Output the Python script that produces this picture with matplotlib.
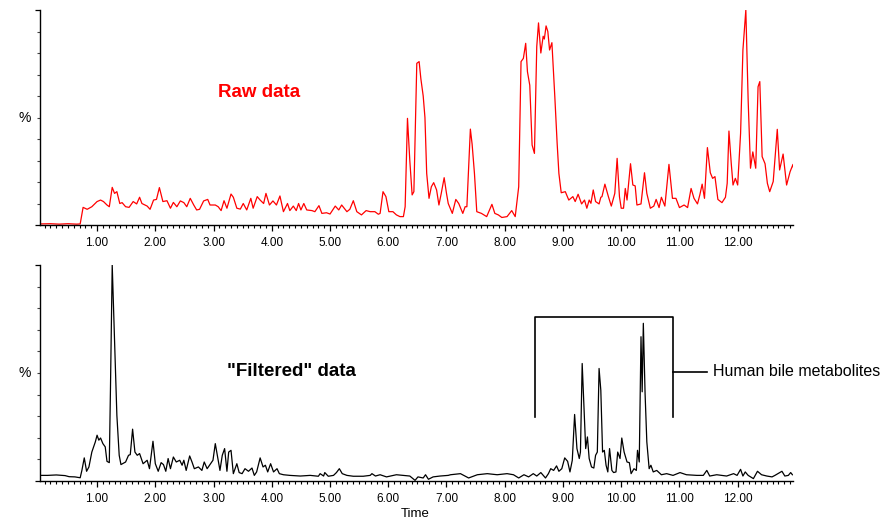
import matplotlib
matplotlib.use("Agg")
import matplotlib.pyplot as plt
from matplotlib.ticker import MultipleLocator, FixedLocator, FuncFormatter
import matplotlib.transforms as mtransforms

plt.rcParams['font.family'] = ['Liberation Sans', 'DejaVu Sans']

# ---- Raw data trace (top, red) ----
raw_time = [0.03, 0.2, 0.35, 0.5, 0.65, 0.71, 0.76, 0.83, 0.91, 1.00, 1.06, 1.11, 1.17, 1.21,
            1.26, 1.30, 1.34, 1.39, 1.43, 1.49, 1.55, 1.62, 1.68, 1.73, 1.77, 1.86, 1.91, 1.97,
            2.02, 2.07, 2.13, 2.20, 2.26, 2.31, 2.37, 2.43, 2.49, 2.54, 2.60, 2.66, 2.71, 2.76,
            2.83, 2.90, 2.94, 3.03, 3.08, 3.13, 3.18, 3.23, 3.30, 3.34, 3.40, 3.46, 3.51, 3.57,
            3.64, 3.68, 3.75, 3.80, 3.86, 3.90, 3.96, 4.02, 4.08, 4.14, 4.20, 4.27, 4.31, 4.37,
            4.42, 4.46, 4.50, 4.55, 4.60, 4.69, 4.74, 4.81, 4.86, 4.94, 5.00, 5.09, 5.15, 5.20,
            5.29, 5.34, 5.40, 5.46, 5.54, 5.62, 5.69, 5.77, 5.83, 5.86, 5.91, 5.96, 6.01, 6.08,
            6.14, 6.20, 6.26, 6.29, 6.33, 6.37, 6.41, 6.44, 6.49, 6.53, 6.56, 6.60, 6.63, 6.66,
            6.70, 6.74, 6.78, 6.83, 6.87, 6.91, 6.96, 7.00, 7.03, 7.10, 7.16, 7.21, 7.28, 7.32,
            7.35, 7.37, 7.41, 7.44, 7.48, 7.52, 7.60, 7.69, 7.78, 7.83, 7.89, 7.95, 8.04, 8.12,
            8.18, 8.24, 8.28, 8.32, 8.36, 8.39, 8.43, 8.47, 8.51, 8.55, 8.58, 8.62, 8.66, 8.68,
            8.71, 8.74, 8.77, 8.81, 8.86, 8.90, 8.93, 8.97, 9.04, 9.10, 9.17, 9.21, 9.26, 9.32,
            9.37, 9.41, 9.45, 9.48, 9.52, 9.56, 9.62, 9.65, 9.67, 9.72, 9.78, 9.83, 9.89, 9.93,
            9.97, 10.00, 10.04, 10.07, 10.10, 10.16, 10.20, 10.24, 10.27, 10.34, 10.40, 10.44,
            10.50, 10.56, 10.60, 10.65, 10.69, 10.75, 10.82, 10.88, 10.94, 11.00, 11.08, 11.14,
            11.20, 11.25, 11.31, 11.35, 11.39, 11.43, 11.48, 11.53, 11.57, 11.61, 11.66, 11.73,
            11.79, 11.82, 11.85, 11.89, 11.92, 11.96, 12.00, 12.05, 12.09, 12.14, 12.18, 12.22,
            12.26, 12.31, 12.35, 12.38, 12.42, 12.47, 12.51, 12.55, 12.61, 12.68, 12.72, 12.78,
            12.84, 12.90, 12.95, 12.99]
raw_value = [0.5, 0.6, 0.4, 0.6, 0.4, 0.5, 8.2, 7.3, 8.5, 10.9, 11.6, 10.9, 9.3, 8.5,
             17.5, 14.7, 15.5, 10.0, 10.4, 8.5, 8.2, 10.9, 9.8, 12.9, 10.0, 8.8, 7.3, 11.6,
             11.9, 17.4, 10.9, 11.3, 7.8, 10.5, 8.5, 11.2, 10.4, 8.5, 12.4, 9.3, 7.0, 7.3,
             11.2, 11.9, 9.3, 9.3, 8.5, 6.7, 11.3, 7.8, 14.4, 12.9, 7.8, 7.4, 10.0, 7.0,
             12.4, 7.8, 13.2, 11.6, 10.0, 14.7, 9.3, 11.2, 9.3, 13.5, 6.2, 10.0, 6.7, 8.8,
             6.7, 10.0, 7.0, 10.0, 7.0, 6.7, 6.2, 9.0, 5.4, 5.7, 5.1, 8.8, 7.0, 9.3,
             6.2, 7.3, 11.3, 6.2, 4.7, 6.7, 6.2, 6.2, 5.0, 5.4, 15.5, 13.2, 6.2, 6.2,
             4.7, 3.9, 3.9, 8.5, 49.6, 30.0, 14.0, 15.5, 75.2, 76.0, 68.0, 60.0, 50.0, 24.0,
             12.4, 17.8, 19.7, 16.3, 9.3, 14.7, 22.0, 14.7, 10.0, 5.4, 11.9, 10.0, 5.4, 8.5,
             8.5, 20.9, 44.6, 37.6, 24.0, 6.2, 5.4, 3.9, 9.6, 5.4, 4.7, 3.5, 3.9, 6.7,
             3.9, 17.8, 76.0, 77.5, 84.5, 71.3, 65.0, 37.2, 33.3, 83.0, 94.0, 80.0, 87.8, 86.5,
             92.6, 90.0, 81.4, 84.8, 59.7, 38.0, 24.0, 15.0, 15.5, 11.6, 13.2, 10.9, 14.3, 9.8,
             11.6, 7.8, 11.6, 10.1, 16.3, 10.9, 9.8, 12.9, 13.2, 19.0, 13.2, 8.8, 14.7, 31.0,
             13.2, 7.8, 7.8, 17.0, 11.6, 28.5, 18.6, 18.2, 9.3, 9.8, 24.3, 14.7,
             7.8, 8.8, 11.9, 8.1, 12.9, 8.8, 28.2, 12.4, 12.4, 8.1, 9.3, 8.1,
             17.0, 12.4, 9.8, 14.0, 19.0, 12.4, 36.0, 24.3, 21.7, 22.5, 11.9, 10.4,
             12.9, 19.4, 43.7, 28.5, 18.6, 21.7, 18.6, 42.6, 81.4, 100.0, 58.0, 26.4,
             34.0, 26.4, 64.3, 66.7, 31.8, 28.5, 19.4, 15.5, 20.2, 44.5, 25.6, 33.0,
             18.6, 24.8, 28.2, 21.0]

# ---- "Filtered" data trace (bottom, black) ----
filt_time = [0.03, 0.15, 0.3, 0.45, 0.52, 0.62, 0.71, 0.74, 0.78, 0.82, 0.86, 0.91, 0.97, 1.00,
             1.03, 1.06, 1.10, 1.14, 1.17, 1.21, 1.23, 1.26, 1.30, 1.34, 1.38, 1.41, 1.49, 1.54,
             1.57, 1.61, 1.65, 1.69, 1.73, 1.79, 1.86, 1.90, 1.96, 2.00, 2.05, 2.10, 2.14, 2.18,
             2.22, 2.26, 2.31, 2.36, 2.42, 2.46, 2.49, 2.53, 2.59, 2.63, 2.67, 2.74, 2.80, 2.84,
             2.89, 2.95, 2.99, 3.03, 3.07, 3.11, 3.15, 3.19, 3.23, 3.26, 3.30, 3.34, 3.40, 3.44,
             3.49, 3.54, 3.60, 3.66, 3.70, 3.74, 3.80, 3.85, 3.89, 3.93, 3.98, 4.03, 4.09, 4.13,
             4.20, 4.31, 4.49, 4.66, 4.80, 4.83, 4.89, 4.91, 4.97, 5.06, 5.11, 5.16, 5.21, 5.29,
             5.40, 5.57, 5.69, 5.72, 5.78, 5.86, 5.97, 6.14, 6.25, 6.37, 6.46, 6.51, 6.60, 6.64,
             6.69, 6.77, 6.89, 7.03, 7.07, 7.24, 7.38, 7.53, 7.70, 7.87, 8.04, 8.15, 8.24, 8.33,
             8.41, 8.49, 8.55, 8.62, 8.70, 8.75, 8.79, 8.84, 8.89, 8.93, 8.98, 9.03, 9.08, 9.12,
             9.16, 9.20, 9.24, 9.28, 9.30, 9.33, 9.36, 9.39, 9.42, 9.45, 9.49, 9.53, 9.56, 9.59,
             9.62, 9.65, 9.68, 9.71, 9.74, 9.77, 9.80, 9.84, 9.87, 9.91, 9.94, 9.98, 10.01, 10.05,
             10.10, 10.14, 10.17, 10.22, 10.26, 10.28, 10.31, 10.34, 10.36, 10.38, 10.41, 10.44,
             10.48, 10.51, 10.55, 10.61, 10.69, 10.78, 10.89, 11.01, 11.12, 11.30, 11.41, 11.47,
             11.52, 11.64, 11.81, 11.93, 11.99, 12.05, 12.09, 12.13, 12.18, 12.27, 12.34, 12.41,
             12.50, 12.59, 12.64, 12.76, 12.81, 12.87, 12.91, 12.94]
filt_value = [2.6, 2.6, 2.8, 2.5, 2.0, 1.9, 1.5, 5.0, 10.7, 4.5, 6.5, 13.4, 18.1, 21.2,
              18.9, 19.9, 17.3, 15.8, 9.1, 8.5, 42.8, 100.0, 64.5, 30.4, 11.9, 7.6, 8.8, 11.9,
              12.2, 24.0, 13.4, 11.9, 12.7, 8.0, 9.6, 5.7, 18.4, 8.0, 4.5, 8.5, 7.6, 4.5,
              10.4, 5.7, 11.1, 8.8, 9.6, 7.3, 9.6, 4.9, 11.6, 8.8, 5.7, 6.5, 4.9, 8.8,
              5.7, 8.0, 9.6, 17.3, 11.1, 4.9, 11.9, 15.0, 4.5, 13.4, 14.2, 3.4, 8.0, 3.9,
              3.4, 5.7, 4.5, 6.0, 2.6, 4.2, 10.7, 6.5, 7.3, 4.2, 8.0, 4.2, 5.7, 3.4,
              2.9, 2.6, 2.3, 2.6, 2.2, 3.4, 2.3, 3.9, 2.2, 2.6, 3.9, 5.7, 3.4, 2.6,
              2.2, 2.2, 2.6, 3.4, 2.3, 2.9, 1.9, 2.9, 2.6, 2.3, 0.3, 1.9, 1.4, 2.9,
              0.8, 1.9, 2.3, 2.6, 2.9, 3.4, 1.4, 2.9, 3.4, 2.9, 3.4, 2.9, 1.4, 2.9,
              1.9, 3.4, 2.3, 3.9, 1.4, 3.4, 5.7, 4.9, 7.0, 4.5, 5.7, 10.7, 9.1, 4.2,
              9.6, 30.8, 15.0, 10.4, 13.4, 54.4, 35.1, 15.0, 20.4, 10.4, 6.5, 6.0, 11.9, 13.4,
              52.1, 42.0, 13.4, 14.2, 7.3, 4.2, 15.0, 4.9, 3.9, 4.2, 13.4, 10.4, 19.9, 13.4,
              8.8, 8.5, 3.4, 5.7, 4.9, 14.2, 8.8, 66.8, 41.3, 73.0, 40.5, 18.1,
              5.7, 7.3, 4.2, 4.9, 2.9, 3.4, 2.6, 3.9, 2.9, 2.6, 2.6, 4.9,
              2.3, 2.9, 2.3, 3.4, 2.6, 5.4, 2.3, 4.2, 2.6, 1.1, 4.5, 2.9,
              2.3, 1.9, 2.6, 4.5, 2.3, 2.6, 3.9, 2.9]

tick_values = [1, 2, 3, 4, 5, 6, 7, 8, 9, 10, 11, 12]
bracket_x = [8.52, 10.89]
bracket_y = [29.6, 75.9]

W, H = 891, 522
fig = plt.figure(figsize=(W / 100, H / 100), dpi=100)

def make_ax(top_px, bot_px):
    left, right = 40, 793
    ax = fig.add_axes([left / W, 1 - bot_px / H, (right - left) / W, (bot_px - top_px) / H])
    ax.set_xlim(0.02, 12.95)
    ax.set_ylim(0, 100)
    for s in ('top', 'right'):
        ax.spines[s].set_visible(False)
    for s in ('left', 'bottom'):
        ax.spines[s].set_linewidth(1.0)
        ax.spines[s].set_color('black')
    ax.xaxis.set_major_locator(FixedLocator(tick_values))
    ax.xaxis.set_major_formatter(FuncFormatter(lambda v, p: f"{v:.2f}"))
    ax.xaxis.set_minor_locator(MultipleLocator(0.1))
    ax.yaxis.set_major_locator(FixedLocator([0, 100]))
    ax.yaxis.set_minor_locator(MultipleLocator(10))
    ax.yaxis.set_major_formatter(FuncFormatter(lambda v, p: ""))
    ax.tick_params(axis='x', which='major', length=4.5, width=0.9, pad=4.5, labelsize=8.5, color='black')
    ax.tick_params(axis='x', which='minor', length=2.2, width=0.8, color='black')
    ax.tick_params(axis='y', which='major', length=3.5, width=0.9, color='black')
    ax.tick_params(axis='y', which='minor', length=2.0, width=0.8, color='#444444')
    trans = mtransforms.blended_transform_factory(ax.transAxes, ax.transData)
    ax.text(-0.012, 50, '%', transform=trans, ha='right', va='center', fontsize=10)
    return ax

ax1 = make_ax(10, 225)
ax1.plot(raw_time, raw_value, color='#ff0000', lw=0.9)
ax1.text(3.78, 61.4, 'Raw data', color='#ff0000', fontsize=13.5, fontweight='bold',
         ha='center', va='center')

ax2 = make_ax(265, 481)
ax2.plot(filt_time, filt_value, color='black', lw=0.9)
ax2.text(4.33, 50.5, '"Filtered" data', color='black', fontsize=13.5, fontweight='bold',
         ha='center', va='center')

# bracket for human bile metabolites
ax2.plot([bracket_x[0], bracket_x[0], bracket_x[1], bracket_x[1]],
         [bracket_y[0], bracket_y[1], bracket_y[1], bracket_y[0]],
         color='black', lw=1.2, clip_on=False)
ax2.plot([bracket_x[1], 11.47], [50.5, 50.5], color='black', lw=1.2, clip_on=False)
ax2.text(11.58, 50.5, 'Human bile metabolites', fontsize=11.5, ha='left', va='center')

fig.text(415 / W, 1 - 514 / H, 'Time', ha='center', va='center', fontsize=9.5)

fig.savefig('out.png', dpi=100)
